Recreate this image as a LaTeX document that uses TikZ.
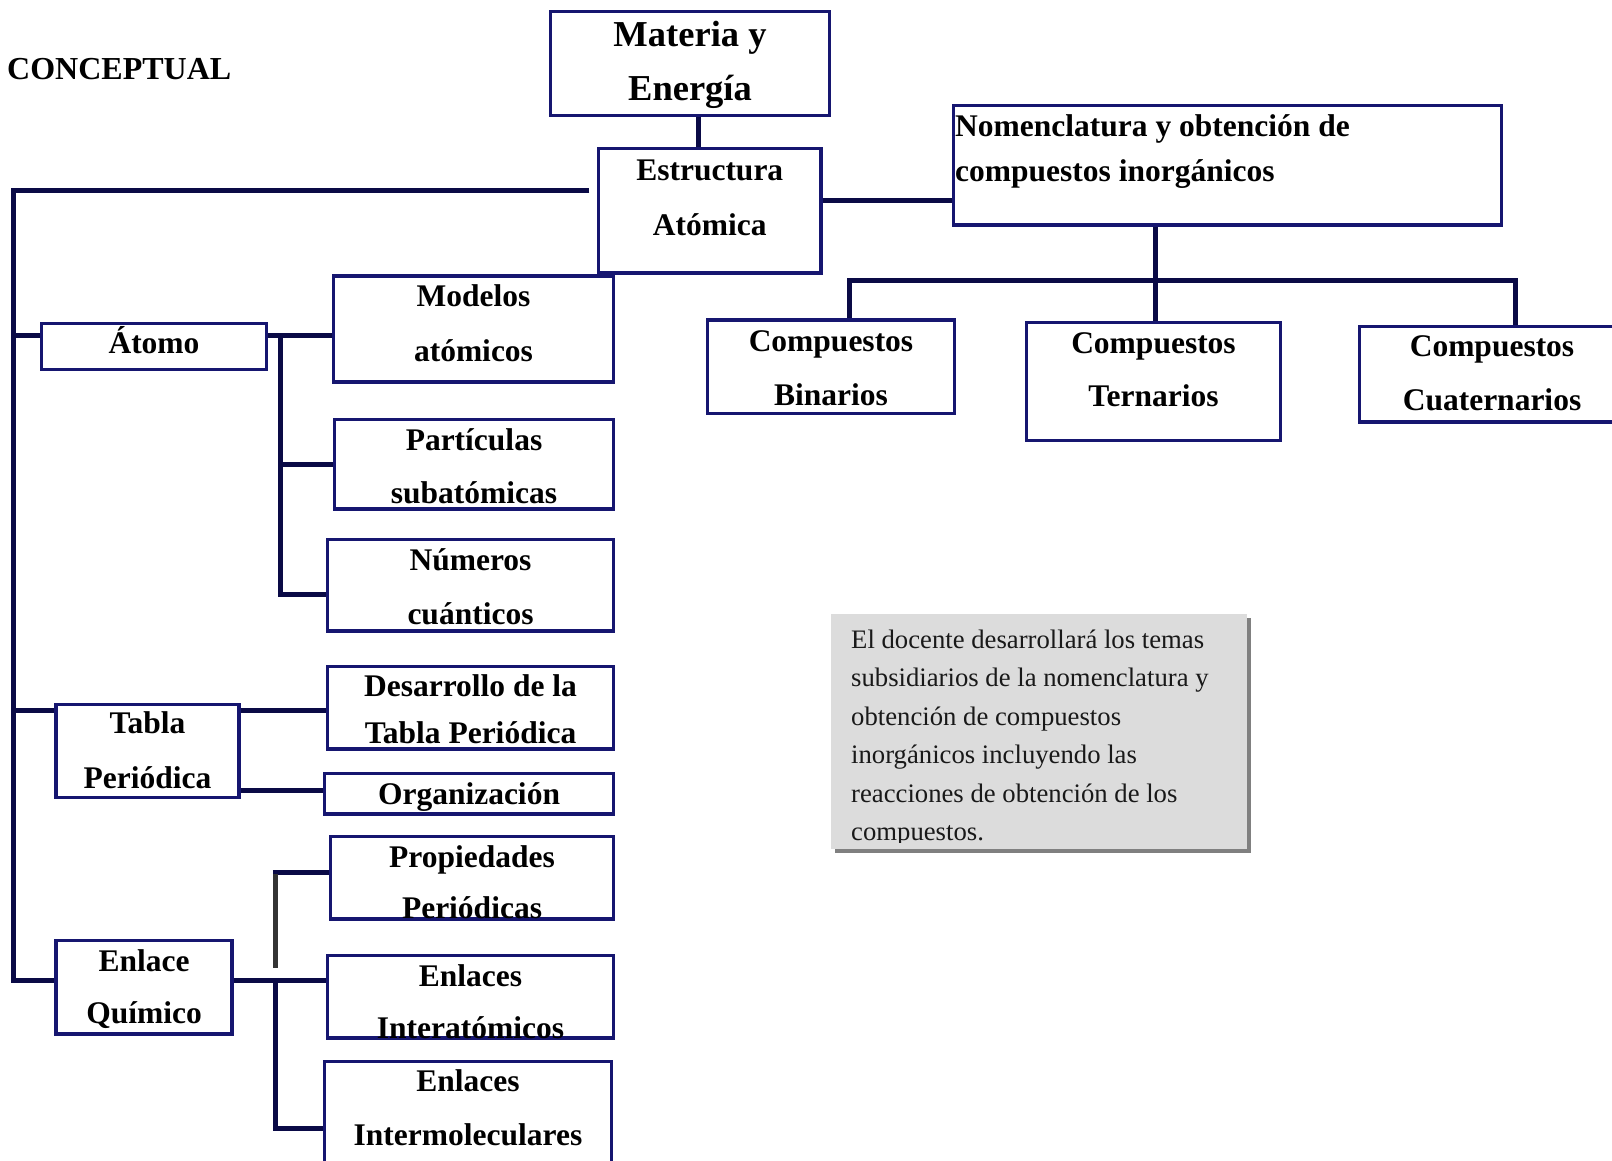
\documentclass[tikz,border=0pt]{standalone}
\usepackage{fontspec}
\setmainfont{Liberation Serif}
\usetikzlibrary{shadows}
\definecolor{boxnavy}{RGB}{22,22,112}
\definecolor{linenavy}{RGB}{10,10,70}
\definecolor{notefill}{RGB}{220,220,220}
\definecolor{noteshadow}{RGB}{128,128,128}
\definecolor{stubgray}{RGB}{52,52,52}
% text lines of a box, clipped to the inside of its frame
\newcommand\inbox[2]{%
  \begin{scope}
    \clip ([shift={(1.75,-1.75)}]#1.south west) rectangle ([shift={(-1.75,1.75)}]#1.north east);
    #2
  \end{scope}}
\begin{document}
\begin{tikzpicture}[x=1pt,y=-1pt,
  cbox/.style={rectangle, draw=boxnavy, line width=3.5pt, fill=white, inner sep=0pt},
  conn/.style={draw=linenavy, line width=5pt},
  lbl/.style={anchor=base, inner sep=0pt, text=black,
    font=\bfseries\fontsize{31.5}{36}\selectfont},
  lbll/.style={lbl, anchor=base west},
  biglbl/.style={lbl, font=\bfseries\fontsize{36.5}{40}\selectfont},
  notetxt/.style={anchor=base west, inner sep=0pt, text=black!90,
    font=\fontsize{26.7}{30}\selectfont},
]
% page
\fill[white] (0,0) rectangle (1612,1160);
\useasboundingbox (0,0) rectangle (1612,1160);

% heading
\node[lbll, font=\bfseries\fontsize{32}{36}\selectfont] (title) at (7,79.5) {CONCEPTUAL};

% ---------- boxes ----------
\node[cbox, minimum width=279,   minimum height=104]   (mat)  at (690,63.5) {};
\node[cbox, minimum width=222.5, minimum height=124.5] (est)  at (709.75,210.75) {};
\node[cbox, minimum width=548,   minimum height=119.5] (nom)  at (1227.5,165.25) {};
\node[cbox, minimum width=225,   minimum height=46]    (ato)  at (154,346.5) {};
\node[cbox, minimum width=280,   minimum height=106]   (mod)  at (473.5,329) {};
\node[cbox, minimum width=279,   minimum height=89.5]  (par)  at (474,464.25) {};
\node[cbox, minimum width=286,   minimum height=91.5]  (num)  at (470.5,585.25) {};
\node[cbox, minimum width=183,   minimum height=93]    (tab)  at (147.5,751) {};
\node[cbox, minimum width=286,   minimum height=82.5]  (des)  at (470.5,707.75) {};
\node[cbox, minimum width=289,   minimum height=40.5]  (org)  at (469,793.75) {};
\node[cbox, minimum width=176,   minimum height=93.5]  (enl)  at (144,987.25) {};
\node[cbox, minimum width=283,   minimum height=82.5]  (pro)  at (472,877.75) {};
\node[cbox, minimum width=286,   minimum height=82.5]  (inta) at (470.5,996.75) {};
\node[cbox, minimum width=287,   minimum height=118.5] (intm) at (468,1120.75) {};
\node[cbox, minimum width=247,   minimum height=93.5]  (bin)  at (831,366.75) {};
\node[cbox, minimum width=254,   minimum height=118]   (ter)  at (1153.5,381.5) {};
\node[cbox, minimum width=270.5, minimum height=95.5]  (cua)  at (1494.75,374.25) {};

% note with drop shadow
\node[rectangle, inner sep=0pt, fill=notefill, minimum width=416, minimum height=235,
  drop shadow={shadow xshift=3.5pt, shadow yshift=-3.5pt, fill=noteshadow, opacity=1}]
  (note) at (1039,731.5) {};

% ---------- box texts ----------
\inbox{mat}{\node[biglbl] (mat1) at (690,46.7) {Materia y};
            \node[biglbl] (mat2) at (690,100) {Energía};}
\inbox{est}{\node[lbl] (est1) at (709.75,180) {Estructura};
            \node[lbl] (est2) at (709.75,235) {Atómica};}
\inbox{nom}{\node[lbll] (nom1) at (955,136.7) {Nomenclatura y obtención de};
            \node[lbll] (nom2) at (955,181.7) {compuestos inorgánicos};}
\inbox{ato}{\node[lbl] (ato1) at (154,353.3) {Átomo};}
\inbox{mod}{\node[lbl] (mod1) at (473.5,306.7) {Modelos};
            \node[lbl] (mod2) at (473.5,361) {atómicos};}
\inbox{par}{\node[lbl] (par1) at (474,450) {Partículas};
            \node[lbl] (par2) at (474,503.3) {subatómicas};}
\inbox{num}{\node[lbl] (num1) at (470.5,570) {Números};
            \node[lbl] (num2) at (470.5,624) {cuánticos};}
\inbox{tab}{\node[lbl] (tab1) at (147.5,733) {Tabla};
            \node[lbl] (tab2) at (147.5,788) {Periódica};}
\inbox{des}{\node[lbl] (des1) at (470.5,696.7) {Desarrollo de la};
            \node[lbl] (des2) at (470.5,743) {Tabla Periódica};}
\inbox{org}{\node[lbl] (org1) at (469,804) {Organización};}
\inbox{enl}{\node[lbl] (enl1) at (144,971.7) {Enlace};
            \node[lbl] (enl2) at (144,1023) {Químico};}
\inbox{pro}{\node[lbl] (pro1) at (472,867) {Propiedades};
            \node[lbl] (pro2) at (472,918) {Periódicas};}
\inbox{inta}{\node[lbl] (inta1) at (470.5,986.7) {Enlaces};
             \node[lbl] (inta2) at (470.5,1038) {Interatómicos};}
\inbox{intm}{\node[lbl] (intm1) at (468,1091.7) {Enlaces};
             \node[lbl] (intm2) at (468,1145) {Intermoleculares};}
\inbox{bin}{\node[lbl] (bin1) at (831,351.7) {Compuestos};
            \node[lbl] (bin2) at (831,405) {Binarios};}
\inbox{ter}{\node[lbl] (ter1) at (1153.5,353.3) {Compuestos};
            \node[lbl] (ter2) at (1153.5,406.7) {Ternarios};}
\inbox{cua}{\node[lbl] (cua1) at (1492,356.7) {Compuestos};
            \node[lbl] (cua2) at (1492,410) {Cuaternarios};}
% the note's text area ends a little above its lower edge
\begin{scope}
  \clip (note.north west) rectangle ([yshift=7]note.south east);
  \node[notetxt] (n1) at (851,648) {El docente desarrollará los temas};
  \node[notetxt] (n2) at (851,686.5) {subsidiarios de la nomenclatura y};
  \node[notetxt] (n3) at (851,725) {obtención de compuestos};
  \node[notetxt] (n4) at (851,763.5) {inorgánicos incluyendo las};
  \node[notetxt] (n5) at (851,802) {reacciones de obtención de los};
  \node[notetxt] (n6) at (851,840.5) {compuestos.};
\end{scope}

% ---------- connectors ----------
% Materia y Energía -- Estructura Atómica
\draw[conn] ([xshift=8]mat.south) -- ([xshift=8]mat.south |- est.north);

% main trunk on the left
\coordinate (trunk) at (13,190.5);
\coordinate (estW) at ([shift={(-7.5,-20.25)}]est.west);
\coordinate (atoL) at ([yshift=11.5]ato.west);
\coordinate (tabL) at ([yshift=41]tab.west);
\coordinate (enlL) at ([yshift=7.25]enl.west);
\draw[conn] (estW) -- (estW -| trunk) |- (enlL);
\draw[conn] (atoL) -| (trunk);
\draw[conn] (tabL) -| (trunk);

% Átomo branch
\coordinate (atoR) at ([yshift=11.5]ato.east);
\coordinate (abus) at ([xshift=12.5]atoR);
\coordinate (numL) at ([yshift=-8.75]num.west);
\draw[conn] (atoR) -- (atoR -| mod.west);
\draw[conn] (abus) |- (numL);
\draw[conn] (abus |- par.west) -- (par.west);

% Tabla Periódica branch
\coordinate (tabR1) at ([yshift=41]tab.east);
\coordinate (tabR2) at ([yshift=-39]tab.east);
\draw[conn] (tabR1) -- (tabR1 -| des.west);
\draw[conn] (tabR2) -- (tabR2 -| org.west);

% Enlace Químico branch
\coordinate (enlR) at ([yshift=7.25]enl.east);
\coordinate (ebus) at ([xshift=41.5]enlR);
\coordinate (proL) at ([yshift=5.75]pro.west);
\coordinate (intmL) at ([yshift=-7.25]intm.west);
\draw[conn] (enlR) -- (enlR -| inta.west);
\draw[conn] (ebus) |- (intmL);
\draw[conn] ([xshift=-2.5]proL -| ebus) -- (proL);
\draw[stubgray, line width=5pt] ([yshift=-2]proL -| ebus) -- ([yshift=12]ebus);

% right side
\coordinate (estR) at ([yshift=10.25]est.east);
\draw[conn] (estR) -- (estR -| nom.west);
\coordinate (nS) at ([xshift=-72]nom.south);
\coordinate (hb) at ([yshift=-54]nS);
\coordinate (binT) at ([xshift=18]bin.north);
\coordinate (cuaT) at ([xshift=20.25]cua.north);
\draw[conn] (nS) -- (nS |- ter.north);
\draw[conn] (binT) |- (hb) -| (cuaT);
\end{tikzpicture}
\end{document}
